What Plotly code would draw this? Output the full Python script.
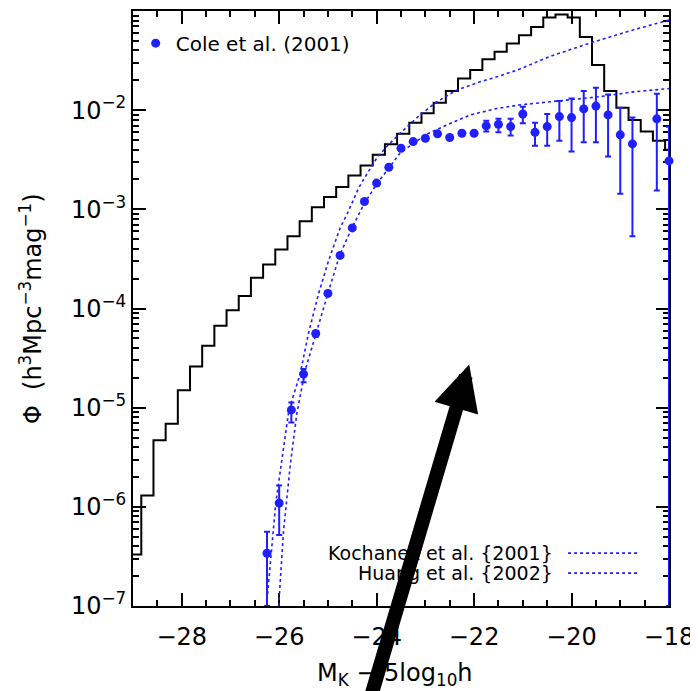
import plotly.graph_objects as go

# ---------------- data ----------------
# histogram (left bin edges, mag) and values
hist_bin_left = [-29.08, -28.83, -28.58, -28.33, -28.08, -27.83, -27.58, -27.33, -27.08,
                 -26.83, -26.58, -26.33, -26.08, -25.83, -25.58, -25.33, -25.08, -24.83,
                 -24.58, -24.33, -24.08, -23.83, -23.58, -23.33, -23.08, -22.83, -22.58,
                 -22.33, -22.08, -21.83, -21.58, -21.33, -21.08, -20.83, -20.58, -20.33,
                 -20.08, -19.83, -19.58, -19.33, -19.08, -18.83, -18.58, -18.33, -18.08]
hist_last_edge = -17.83
hist_phi = [3.3e-7, 1.3e-6, 4.7e-6, 6.9e-6, 1.5e-5, 2.6e-5, 4.2e-5, 6.7e-5, 9.6e-5,
            1.34e-4, 2.04e-4, 2.78e-4, 3.94e-4, 5.36e-4, 7.57e-4, 1.05e-3, 1.33e-3, 1.68e-3,
            2.2e-3, 2.77e-3, 3.55e-3, 4.53e-3, 5.77e-3, 7.48e-3, 9.29e-3, 1.19e-2, 1.56e-2,
            2.09e-2, 2.54e-2, 3.27e-2, 3.88e-2, 4.69e-2, 5.70e-2, 6.90e-2, 8.6e-2, 9.2e-2,
            8.6e-2, 5.48e-2, 2.85e-2, 1.56e-2, 1.06e-2, 7.97e-3, 6.08e-3, 4.91e-3, 3.98e-3]

# Cole et al. (2001) points with error-bar bounds
cole_M = [-26.25, -26.0, -25.75, -25.5, -25.25, -25.0, -24.75, -24.5, -24.25, -24.0,
          -23.75, -23.5, -23.25, -23.0, -22.75, -22.5, -22.25, -22.0, -21.75, -21.5,
          -21.25, -21.0, -20.75, -20.5, -20.25, -20.0, -19.75, -19.5, -19.25, -19.0,
          -18.75, -18.25, -18.0]
cole_phi = [3.4e-7, 1.09e-6, 9.5e-6, 2.18e-5, 5.6e-5, 1.42e-4, 3.43e-4, 6.5e-4, 1.2e-3, 1.84e-3,
            2.66e-3, 4.13e-3, 4.82e-3, 5.21e-3, 5.77e-3, 5.3e-3, 5.85e-3, 5.85e-3, 6.94e-3, 7.2e-3,
            6.83e-3, 9.16e-3, 5.98e-3, 6.83e-3, 8.61e-3, 8.41e-3, 1.03e-2, 1.10e-2, 8.95e-3, 5.64e-3,
            4.57e-3, 8.17e-3, 3.08e-3]
cole_hi = [5.6e-7, 1.64e-6, 1.13e-5, 2.45e-5, 5.9e-5, 1.5e-4, 3.6e-4, 6.8e-4, 1.2e-3, 1.84e-3,
           2.66e-3, 4.13e-3, 4.82e-3, 5.21e-3, 5.77e-3, 5.3e-3, 5.85e-3, 5.85e-3, 7.8e-3, 8.17e-3,
           8.17e-3, 1.08e-2, 7.48e-3, 9.16e-3, 1.24e-2, 1.31e-2, 1.56e-2, 1.68e-2, 1.44e-2, 1.06e-2,
           8.41e-3, 1.46e-2, 6.8e-3]
cole_lo = [1e-7, 5.2e-7, 7.1e-6, 1.8e-5, 5.2e-5, 1.34e-4, 3.26e-4, 6.2e-4, 1.2e-3, 1.84e-3,
           2.66e-3, 4.13e-3, 4.82e-3, 5.21e-3, 5.77e-3, 5.3e-3, 5.85e-3, 5.85e-3, 6.08e-3, 5.98e-3,
           5.55e-3, 7.36e-3, 4.37e-3, 4.37e-3, 4.93e-3, 3.83e-3, 4.74e-3, 4.74e-3, 3.41e-3, 1.44e-3,
           5.36e-4, 1.55e-3, 1e-7]

# Huang et al. (2002) curve
huang_M = [-26.26, -26.07, -25.80, -25.57, -25.40, -25.30, -25.19, -24.99, -24.75, -24.61,
           -24.37, -24.27, -24.00, -23.76, -23.52, -23.11, -22.76, -22.35, -21.88, -21.46,
           -21.06, -20.44, -19.58, -18.74, -18.00]
huang_phi = [1.0e-7, 1.09e-6, 9.5e-6, 2.18e-5, 5.6e-5, 8.7e-5, 1.42e-4, 3.0e-4, 6.5e-4, 8.85e-4,
             1.64e-3, 1.99e-3, 3.28e-3, 4.47e-3, 5.85e-3, 8.95e-3, 1.22e-2, 1.60e-2, 1.93e-2, 2.22e-2,
             2.6e-2, 3.49e-2, 4.82e-2, 6.44e-2, 8.1e-2]

# Kochanek et al. (2001) curve
kochanek_M = [-26.01, -25.91, -25.77, -25.64, -25.47, -25.25, -25.00, -24.76, -24.51, -24.25,
              -24.00, -23.75, -23.52, -23.00, -22.56, -22.08, -21.53, -21.06, -20.44, -19.41,
              -18.73, -18.00]
kochanek_phi = [1.0e-7, 5.8e-7, 2.7e-6, 8.6e-6, 2.35e-5, 5.58e-5, 1.42e-4, 3.43e-4, 6.49e-4, 1.15e-3,
                1.8e-3, 2.6e-3, 3.7e-3, 5.64e-3, 7.1e-3, 8.95e-3, 1.04e-2, 1.13e-2, 1.22e-2, 1.37e-2,
                1.53e-2, 1.65e-2]

x_tick_vals = [-28, -26, -24, -22, -20, -18]
y_tick_vals = [1e-7, 1e-6, 1e-5, 1e-4, 1e-3, 1e-2, 1e-1]
y_tick_text = ["10<sup>−7</sup>", "10<sup>−6</sup>", "10<sup>−5</sup>", "10<sup>−4</sup>",
               "10<sup>−3</sup>", "10<sup>−2</sup>", "10<sup>−1</sup>"]

# ---------------- figure ----------------
BLUE = "#1f1fff"
FONT = "DejaVu Sans"

fig = go.Figure()

fig.add_trace(go.Scatter(
    x=hist_bin_left + [hist_last_edge], y=hist_phi + [hist_phi[-1]],
    mode="lines", line=dict(color="black", width=2, shape="hv"),
    showlegend=False, hoverinfo="skip"))

fig.add_trace(go.Scatter(
    x=kochanek_M, y=kochanek_phi, mode="lines",
    line=dict(color=BLUE, width=1.6, dash="3px,3px"), showlegend=False))

fig.add_trace(go.Scatter(
    x=huang_M, y=huang_phi, mode="lines",
    line=dict(color=BLUE, width=1.6, dash="3px,3px"), showlegend=False))

fig.add_trace(go.Scatter(
    x=cole_M, y=cole_phi, mode="markers", name="Cole et al. (2001)",
    marker=dict(color=BLUE, size=9),
    error_y=dict(type="data", symmetric=False,
                 array=[h - p for h, p in zip(cole_hi, cole_phi)],
                 arrayminus=[p - l for p, l in zip(cole_phi, cole_lo)],
                 color=BLUE, thickness=2, width=3),
    cliponaxis=False, showlegend=True))

axis_common = dict(showline=True, linecolor="black", linewidth=2, mirror="allticks",
                   ticks="inside", tickcolor="black", tickwidth=1.5, showgrid=False,
                   zeroline=False, layer="below traces",
                   tickfont=dict(family=FONT, size=24, color="black"))

fig.update_xaxes(range=[-29, -18], tickmode="array", tickvals=x_tick_vals, ticklen=13,
                 ticklabelstandoff=8,
                 minor=dict(dtick=0.5, ticks="inside", ticklen=6, tickwidth=1.5, tickcolor="black"),
                 **axis_common)
fig.update_yaxes(type="log", range=[-7, -1], tickmode="array", tickvals=y_tick_vals,
                 ticktext=y_tick_text, ticklen=13,
                 minor=dict(dtick="D1", ticks="inside", ticklen=6, tickwidth=1.5, tickcolor="black"),
                 **axis_common)

# axis titles
fig.add_annotation(xref="paper", yref="paper", x=0.489, y=-0.115, xanchor="center",
                   yanchor="middle",
                   text="M<sub>K</sub> − 5log<sub>10</sub>h", showarrow=False,
                   font=dict(family=FONT, size=24, color="black"))
fig.add_annotation(xref="paper", yref="paper", x=-0.191, y=0.5, xanchor="center",
                   yanchor="middle", textangle=-90,
                   text="Φ  (h<sup>3</sup>Mpc<sup>−3</sup>mag<sup>−1</sup>)", showarrow=False,
                   font=dict(family=FONT, size=24, color="black"))

# bottom-right legend for the model curves
legend_rows = [("Kochanek et al. {2001}", 0.0888), ("Huang et al. {2002}", 0.0553)]
for txt, yy in legend_rows:
    fig.add_annotation(xref="paper", yref="paper", x=0.7875, y=yy, xanchor="right",
                       yanchor="middle", text=txt, showarrow=False,
                       font=dict(family=FONT, size=19, color="black"))
    fig.add_shape(type="line", xref="paper", yref="paper", x0=0.8117, x1=0.946, y0=yy, y1=yy,
                  line=dict(color=BLUE, width=1.6, dash="3px,3px"))

# big black arrow
fig.add_annotation(x=-22.1, y=-4.565, xref="x", yref="y", text="", showarrow=True,
                   arrowhead=2, arrowwidth=14, arrowsize=0.65, arrowcolor="black",
                   ax=-99, ay=360, axref="pixel", ayref="pixel")

# the page is shown with the browser's default 8px body margin, so the
# figure margins are reduced by that amount to place the plot area
fig.update_layout(
    width=698, height=691,
    margin=dict(l=125, r=37, t=1, b=93),
    paper_bgcolor="white", plot_bgcolor="white",
    font=dict(family=FONT, color="black"),
    legend=dict(x=0.005, y=0.946, xanchor="left", yanchor="middle",
                bgcolor="rgba(0,0,0,0)", borderwidth=0,
                font=dict(family=FONT, size=20, color="black")),
)

fig.write_html("out.html")
